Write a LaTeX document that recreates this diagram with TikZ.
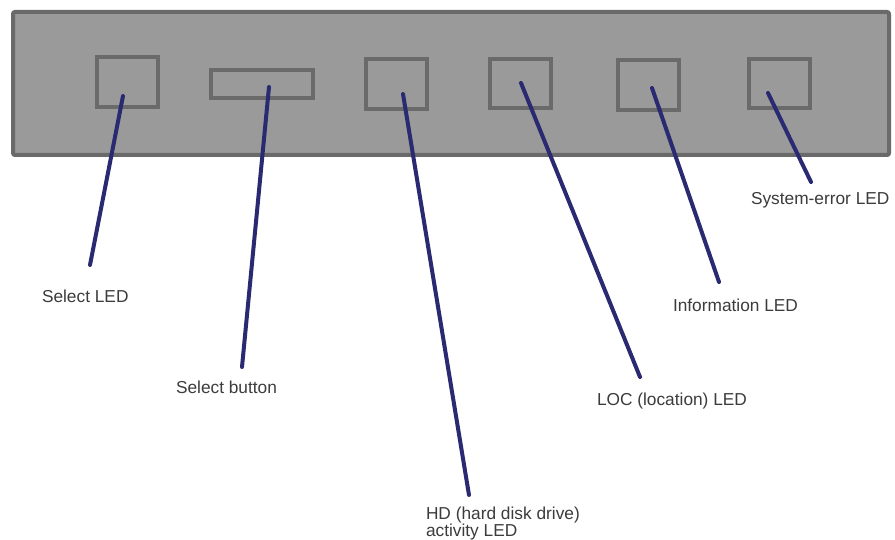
\documentclass[tikz,border=0pt]{standalone}
\usepackage{fontspec}
\setmainfont{Liberation Sans}
\definecolor{panelfill}{HTML}{9A9A9A}
\definecolor{paneledge}{HTML}{6A6A6A}
\definecolor{leadnavy}{HTML}{2A2A72}
\definecolor{labeltext}{HTML}{3C3C3C}
\begin{document}
\begin{tikzpicture}[x=1pt,y=-1pt,
  panel/.style={draw=paneledge,fill=panelfill,line width=4pt,rounded corners=2pt},
  ledbox/.style={draw=paneledge,line width=4pt,inner sep=0pt,outer sep=0pt,minimum width=61pt,minimum height=50pt},
  lead/.style={draw=leadnavy,line width=4pt,line cap=round},
  lbl/.style={anchor=base west,inner sep=0pt,outer sep=0pt,text=labeltext,font=\fontsize{17.3}{15}\selectfont,align=left}]
\useasboundingbox (0,0) rectangle (895,540);
\fill[white] (0,0) rectangle (895,540);
\draw[panel] (13,12) rectangle (889,155);
\node[ledbox] (b1) at (127.5,82) {};
\node[ledbox,minimum width=102pt,minimum height=28pt] (b2) at (262,84) {};
\node[ledbox] (b3) at (396.5,84) {};
\node[ledbox,minimum height=49pt] (b4) at (520.5,83.5) {};
\node[ledbox] (b5) at (648.5,85) {};
\node[ledbox,minimum height=49pt] (b6) at (779.5,83.5) {};
\coordinate (s1) at (123,96);
\coordinate (s2) at (269,87);
\coordinate (s3) at (403,94);
\coordinate (s4) at (521,83);
\coordinate (s5) at (652,88);
\coordinate (s6) at (768,93);
\coordinate (e1) at (90,265);
\coordinate (e2) at (242,367);
\coordinate (e3) at (469,495);
\coordinate (e4) at (640,377);
\coordinate (e5) at (719,282);
\coordinate (e6) at (811,182);
\node[lbl] (l1) at (42,302) {Select LED};
\node[lbl] (l2) at (176,393) {Select button};
\node[lbl,anchor=north west] (l3) at (426,507) {HD (hard disk drive)\\activity LED};
\node[lbl] (l4) at (597,405) {LOC (location) LED};
\node[lbl] (l5) at (673,312) {Information LED};
\node[lbl] (l6) at (751,205) {System-error LED};
\draw[lead] (s1) -- (e1);
\draw[lead] (s2) -- (e2);
\draw[lead] (s3) -- (e3);
\draw[lead] (s4) -- (e4);
\draw[lead] (s5) -- (e5);
\draw[lead] (s6) -- (e6);
\end{tikzpicture}
\end{document}
